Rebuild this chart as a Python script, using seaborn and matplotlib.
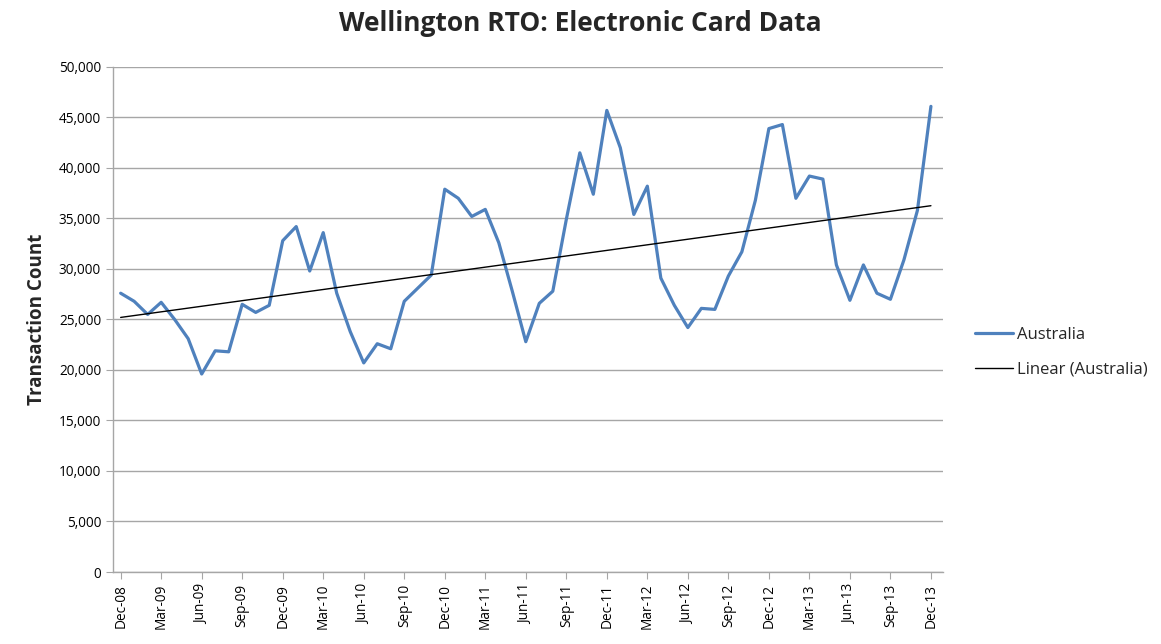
import matplotlib
matplotlib.use("Agg")
import matplotlib.pyplot as plt
import matplotlib.ticker as mticker
import numpy as np
import pandas as pd
import seaborn as sns

# ── Data ─────────────────────────────────────────────────────────────────────
months = pd.date_range("2008-12-01", periods=61, freq="MS")
month_labels = [d.strftime("%b-%y") for d in months]
australia = [
    27600, 26800, 25500, 26700, 25000, 23100, 19600, 21900, 21800, 26500,
    25700, 26400, 32800, 34200, 29800, 33600, 27600, 23800, 20700, 22600,
    22100, 26800, 28100, 29400, 37900, 37000, 35200, 35900, 32600, 27800,
    22800, 26600, 27800, 34900, 41500, 37400, 45700, 42000, 35400, 38200,
    29100, 26400, 24200, 26100, 26000, 29300, 31700, 36800, 43900, 44300,
    37000, 39200, 38900, 30400, 26900, 30400, 27600, 27000, 30900, 35800,
    46100,
]
idx = np.arange(len(australia))
df = pd.DataFrame({"idx": idx, "value": australia})

# ── Plot ─────────────────────────────────────────────────────────────────────
sns.set_style("white")
plt.rcParams["font.family"] = ["Open Sans", "DejaVu Sans"]

fig = plt.figure(figsize=(11.61, 6.44), dpi=100)
ax = fig.add_axes([0.0973, 0.1118, 0.7150, 0.7842])

sns.lineplot(data=df, x="idx", y="value", ax=ax, color="#4F81BD",
             linewidth=2.3, label="Australia")
sns.regplot(data=df, x="idx", y="value", ax=ax, scatter=False, ci=None,
            color="black", line_kws={"linewidth": 1.0},
            label="Linear (Australia)")

ax.set_xlim(-0.57, 60.9)
ax.set_ylim(0, 50000)
ax.yaxis.set_major_locator(mticker.MultipleLocator(5000))
ax.yaxis.set_major_formatter(mticker.FuncFormatter(lambda v, p: f"{int(v):,}"))
ax.set_xticks(idx[::3])
ax.set_xticklabels(month_labels[::3], rotation=90)
ax.grid(axis="y", color="#a6a6a6", linewidth=1.0)
ax.set_axisbelow(True)

for s in ("top", "right"):
    ax.spines[s].set_visible(False)
for s in ("left", "bottom"):
    ax.spines[s].set_color("#a6a6a6")
    ax.spines[s].set_linewidth(1.0)
ax.tick_params(axis="both", which="both", direction="out", length=5,
               color="#a6a6a6", labelsize=9.8, labelcolor="black",
               left=True, bottom=True)

ax.set_xlabel("")
ax.set_ylabel("Transaction Count", fontsize=13.5, fontweight="bold")
ax.yaxis.set_label_coords(-0.08, 0.5)
fig.suptitle("Wellington RTO: Electronic Card Data", fontsize=19,
             fontweight="bold", y=0.985)

ax.get_legend().remove()
handles, labels = ax.get_legend_handles_labels()
fig.legend(handles, labels, loc="center left", bbox_to_anchor=(0.827, 0.453),
           frameon=False, fontsize=12, handlelength=2.25, handletextpad=0.25,
           labelspacing=1.15)

fig.savefig("out.png", dpi=100)
plt.close(fig)
